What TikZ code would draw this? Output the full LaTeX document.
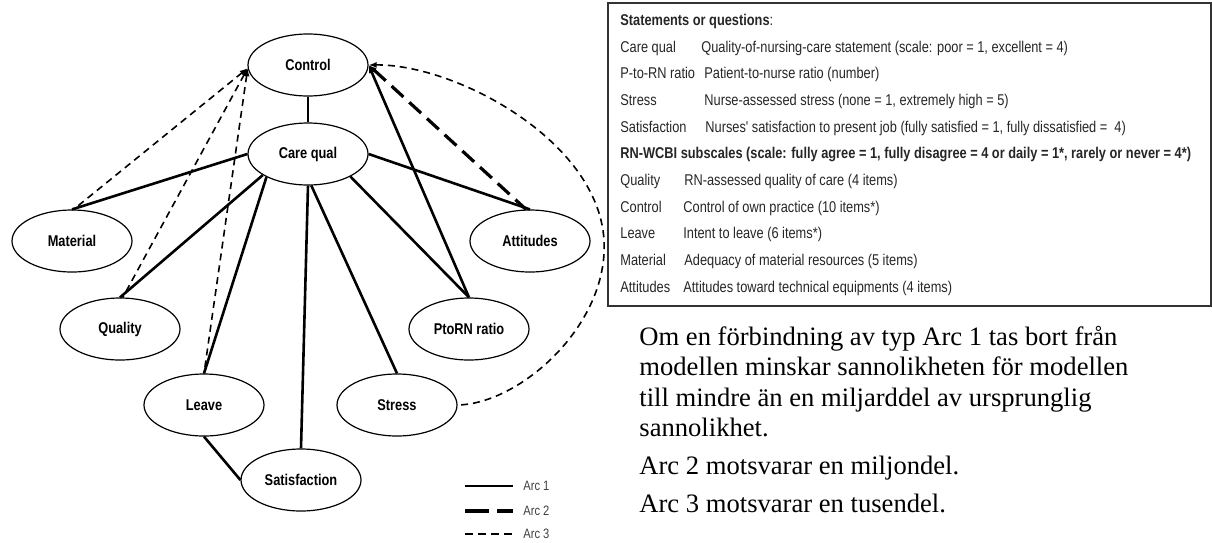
\documentclass[tikz,border=0pt]{standalone}
\usepackage{fontspec}
\setmainfont{Liberation Serif}
\newfontfamily\narrowsans[FakeStretch=0.82]{Liberation Sans}
\usetikzlibrary{shapes.geometric, arrows.meta}

\begin{document}
\begin{tikzpicture}[x=0.5pt, y=-0.5pt,
    var/.style={draw, ellipse, line width=0.6pt, minimum width=60pt, minimum height=31pt, inner sep=0pt,
      font=\narrowsans\bfseries\fontsize{7.8pt}{9pt}\selectfont},
    arcone/.style={line width=1.3pt},
    arctwo/.style={line width=1.6pt, dash pattern=on 8pt off 4pt},
    arcthree/.style={line width=0.8pt, dash pattern=on 3.5pt off 2.5pt},
    intoctrl/.style={{Latex[length=4pt,width=3pt]}-},
    tabtext/.style={anchor=base west, inner sep=0pt, text=black!85,
      font=\narrowsans\fontsize{7.8pt}{9pt}\selectfont},
    note/.style={anchor=base west, inner sep=0pt, font=\fontsize{13.3pt}{15pt}\selectfont},
    legtext/.style={anchor=west, inner sep=0pt, text=black!75,
      font=\narrowsans\fontsize{6.8pt}{8pt}\selectfont}]
  \useasboundingbox (0,0) rectangle (1212,542);

  % the network
  \node (Control) [var] at (308,65) {Control};
  \node (CareQual) [var] at (308,154) {Care qual};
  \node (Material) [var] at (72,241) {Material};
  \node (Attitudes) [var] at (530,241) {Attitudes};
  \node (Quality) [var] at (120,329) {Quality};
  \node (PtoRN) [var] at (469,329) {PtoRN ratio};
  \node (Leave) [var] at (204,405) {Leave};
  \node (Stress) [var] at (397,405) {Stress};
  \node (Satisfaction) [var] at (301,480) {Satisfaction};

  \draw [arcone] (Control) -- (CareQual);
  \draw [arcone] (CareQual.west) -- (Material.north);
  \draw [arcone] (CareQual.205) -- (Quality.north);
  \draw [arcone] (CareQual.209) -- (Leave.north);
  \draw [arcone] (CareQual.south) -- (Satisfaction.north);
  \draw [arcone] (CareQual.-84) -- (Stress.north);
  \draw [arcone] (CareQual.-28) -- (PtoRN.north);
  \draw [arcone] (CareQual.east) -- (Attitudes.north);
  \draw [arcone, intoctrl] (Control.east) -- (PtoRN.north);
  \draw [arcone] (Leave.south) -- (Satisfaction.west);
  \draw [arctwo, intoctrl] (Control.east) -- (Attitudes.97);
  \draw [arcthree, intoctrl] (Control.183) -- (Material.87);
  \draw [arcthree, intoctrl] (Control.183) -- (Quality.85);
  \draw [arcthree, intoctrl] (Control.183) -- (Leave.north);
  \draw [arcthree, intoctrl] (Control.east) .. controls (455,64) and (598,140) .. (604,240)
    .. controls (609,325) and (520,404) .. (Stress.east);

  % legend
  \node (LegOne) [legtext] at (523,486) {Arc 1};
  \node (LegTwo) [legtext] at (523,511) {Arc 2};
  \node (LegThree) [legtext] at (523,534) {Arc 3};
  \draw [arcone] ([xshift=-29pt]LegOne.west) -- ([xshift=-5pt]LegOne.west);
  \draw [arctwo, dash pattern=on 12pt off 4pt] ([xshift=-29pt]LegTwo.west) -- ([xshift=-5pt]LegTwo.west);
  \draw [arcthree, dash pattern=on 4pt off 2.5pt] ([xshift=-29pt]LegThree.west) -- ([xshift=-5pt]LegThree.west);

  % table of variables
  \draw [line width=0.7pt, black!80] (608,3) rectangle (1211,306);
  \node (Head) [tabtext] at (620,25) {{\bfseries Statements or questions}:};
  \node (LblCare) [tabtext] at (620,52) {Care qual};
  \node (DescCare) [tabtext] at (701,52) {Quality-of-nursing-care statement (scale: poor = 1, excellent = 4)};
  \node (LblRatio) [tabtext] at (620,78) {P-to-RN ratio};
  \node (DescRatio) [tabtext] at (704,78) {Patient-to-nurse ratio (number)};
  \node (LblStress) [tabtext] at (620,105) {Stress};
  \node (DescStress) [tabtext] at (704,105) {Nurse-assessed stress (none = 1, extremely high = 5)};
  \node (LblSatis) [tabtext] at (620,132) {Satisfaction};
  \node (DescSatis) [tabtext] at (705,132) {Nurses' satisfaction to present job (fully satisfied = 1, fully dissatisfied = \ 4)};
  \node (Subscales) [tabtext] at (620,158) {\bfseries RN-WCBI subscales (scale: fully agree = 1, fully disagree = 4 or daily = 1*, rarely or never = 4*)};
  \node (LblQuality) [tabtext] at (620,185) {Quality};
  \node (DescQuality) [tabtext] at (684,185) {RN-assessed quality of care (4 items)};
  \node (LblControl) [tabtext] at (620,212) {Control};
  \node (DescControl) [tabtext] at (683,212) {Control of own practice (10 items*)};
  \node (LblLeave) [tabtext] at (620,238) {Leave};
  \node (DescLeave) [tabtext] at (683,238) {Intent to leave (6 items*)};
  \node (LblMaterial) [tabtext] at (620,265) {Material};
  \node (DescMaterial) [tabtext] at (684,265) {Adequacy of material resources (5 items)};
  \node (LblAttitudes) [tabtext] at (620,292) {Attitudes};
  \node (DescAttitudes) [tabtext] at (683,292) {Attitudes toward technical equipments (4 items)};

  % notes
  \node (NoteA) [note] at (639,345) {Om en förbindning av typ Arc 1 tas bort från};
  \node (NoteB) [note] at (639,375.5) {modellen minskar sannolikheten för modellen};
  \node (NoteC) [note] at (639,406) {till mindre än en miljarddel av ursprunglig};
  \node (NoteD) [note] at (639,436.5) {sannolikhet.};
  \node (NoteArcTwo) [note] at (639,474.5) {Arc 2 motsvarar en miljondel.};
  \node (NoteArcThree) [note] at (639,512) {Arc 3 motsvarar en tusendel.};
\end{tikzpicture}
\end{document}
